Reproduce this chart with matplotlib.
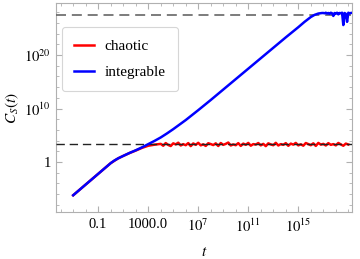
import matplotlib
matplotlib.use("Agg")
import matplotlib.pyplot as plt
from matplotlib.ticker import FixedLocator, NullFormatter
import numpy as np

plt.rcParams['font.family'] = ['Liberation Serif', 'DejaVu Serif']
plt.rcParams['mathtext.fontset'] = 'stix'

# log10 values
blue_logt = [-3, -2, -1, -0.5, -0.2, 0, 0.3, 0.6, 1, 1.5, 2, 2.5, 3, 3.5, 4, 4.5, 5, 5.5, 6, 7, 8,
             10, 12, 14, 15, 15.5, 16, 16.3, 16.6, 16.9]
blue_logC = [-6.2, -4.2, -2.2, -1.2, -0.6, -0.2, 0.3, 0.7, 1.15, 1.7, 2.2, 2.75, 3.35, 3.95, 4.6, 5.35, 6.15, 7.0, 7.85, 9.7, 11.6,
             15.5, 19.4, 23.3, 25.2, 26.2, 27.1, 27.5, 27.75, 27.85]
# noisy saturated tail of the integrable curve, log t from 17.0 in steps of 0.1
blue_tail_logC = [27.85, 27.8, 27.9, 27.75, 27.85, 27.7, 27.9, 27.8, 27.3, 27.85, 27.75, 27.9,
                  27.6, 27.85, 27.8, 27.9, 25.6, 27.85, 27.7, 26.2, 27.9, 27.8, 27.85]

red_logt = [-3, -2, -1, 0, 0.6, 1, 1.5, 2, 2.5, 3, 3.5]
red_logC = [-6.2, -4.2, -2.2, -0.2, 0.7, 1.15, 1.68, 2.15, 2.65, 3.05, 3.25]
# chaotic plateau, log t from 4.0 in steps of 0.2
red_plateau_logC = [3.40, 3.05, 3.55, 3.20, 3.00, 3.50, 3.30, 3.62, 3.10, 3.35, 3.15, 3.55, 2.98, 3.48,
                    3.22, 3.60, 3.12, 3.32, 3.02, 3.52, 3.36, 3.18, 3.50, 3.00, 3.56, 3.22, 3.40, 3.65,
                    3.10, 3.30, 3.15, 3.54, 3.02, 3.45, 3.22, 3.58, 3.06, 3.36, 3.26, 3.56, 3.12, 3.40,
                    2.98, 3.50, 3.30, 3.15, 3.60, 3.10, 3.36, 3.22, 3.54, 3.04, 3.45, 3.26, 3.58, 3.12,
                    3.32, 3.06, 3.56, 3.36, 3.15, 3.50, 3.02, 3.58, 3.26, 3.40, 3.10, 3.54, 3.22, 3.36,
                    3.12, 3.57, 3.30, 3.05, 3.45, 3.28]

upper_level = 27.5
lower_level = 3.3

xticks = [-1, 3, 7, 11, 15]
xtick_labels = ['0.1', '1000.0', '$10^{7}$', '$10^{11}$', '$10^{15}$']
yticks = [0, 10, 20]
ytick_labels = ['1', '$10^{10}$', '$10^{20}$']

blue_t = np.concatenate([10.0 ** np.array(blue_logt), 10.0 ** (17.0 + 0.1 * np.arange(len(blue_tail_logC)))])
blue_C = 10.0 ** np.concatenate([blue_logC, blue_tail_logC])
red_t = np.concatenate([10.0 ** np.array(red_logt), 10.0 ** (4.0 + 0.2 * np.arange(len(red_plateau_logC)))])
red_C = 10.0 ** np.concatenate([red_logC, red_plateau_logC])

fig = plt.figure(figsize=(3.6, 2.59), dpi=100)
ax = fig.add_axes([0.156, 0.181, 0.822, 0.807])

ax.plot(red_t, red_C, color='#ff0000', lw=1.8, zorder=2, label='chaotic')
ax.plot(blue_t, blue_C, color='#0000ff', lw=1.8, zorder=4, label='integrable')
ax.axhline(10 ** upper_level, color='#666666', lw=1.2, dashes=(6, 3.5), zorder=3)
ax.axhline(10 ** lower_level, color='#222222', lw=1.0, dashes=(6, 3.5), zorder=3)

ax.set_xscale('log')
ax.set_yscale('log')
ax.set_xlim(10 ** -4.36, 10 ** 19.3)
ax.set_ylim(10 ** -9.35, 10 ** 29.7)

ax.xaxis.set_major_locator(FixedLocator([10.0 ** k for k in xticks]))
ax.set_xticklabels(xtick_labels)
ax.xaxis.set_minor_locator(FixedLocator([10.0 ** k for k in range(-4, 20)]))
ax.xaxis.set_minor_formatter(NullFormatter())
ax.yaxis.set_major_locator(FixedLocator([10.0 ** k for k in yticks]))
ax.set_yticklabels(ytick_labels)
ax.yaxis.set_minor_locator(FixedLocator([10.0 ** k for k in range(-8, 30, 2)]))
ax.yaxis.set_minor_formatter(NullFormatter())

frame_col = '#b0b0b0'
for s in ax.spines.values():
    s.set_color(frame_col)
    s.set_linewidth(0.8)
ax.tick_params(which='both', direction='in', top=True, right=True, color=frame_col,
               labelsize=10.5, pad=4)
ax.tick_params(which='major', length=4)
ax.tick_params(which='minor', length=2)

ax.set_xlabel('$t$', fontsize=11, labelpad=8)
ax.set_ylabel('$C_S(t)$', fontsize=11, labelpad=2)

leg = ax.legend(loc='upper left', bbox_to_anchor=(0.02, 0.885), borderaxespad=0, fontsize=11,
                handlelength=1.3, frameon=True, fancybox=True, borderpad=0.8, labelspacing=0.8,
                handletextpad=0.7)
leg.get_frame().set_edgecolor('#cccccc')
leg.get_frame().set_linewidth(0.8)

fig.savefig('out.png', dpi=100)
